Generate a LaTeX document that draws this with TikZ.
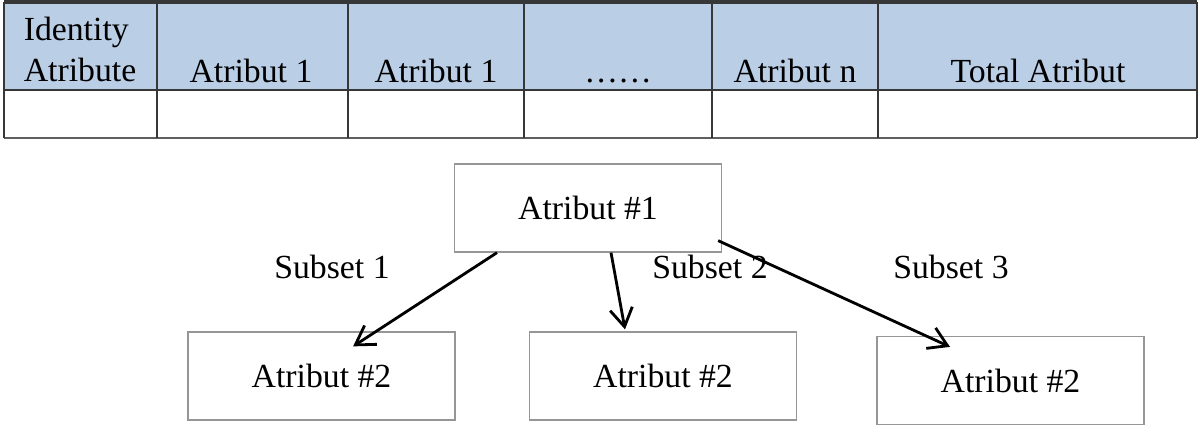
\documentclass[tikz,border=0pt]{standalone}
\usepackage{fontspec}
\setmainfont{Liberation Serif}
\usetikzlibrary{arrows.meta, positioning}
\definecolor{headblue}{RGB}{186,206,230}
\definecolor{gridgray}{RGB}{55,55,55}
\definecolor{boxgray}{RGB}{150,150,150}

\begin{document}
\begin{tikzpicture}[
      x=0.025cm, y=-0.025cm,
      cell/.style = {font=\fontsize{24}{28.8}\selectfont, inner sep=0pt, text=black},
      attrbox/.style = {
        rectangle, draw=boxgray, line width=0.9pt,
        minimum width=6.675cm, minimum height=2.2cm,
        font=\fontsize{24}{28.8}\selectfont, inner sep=0pt, text=black
      },
      arr/.style = {-{Straight Barb[length=13pt,width=16pt]}, line width=2pt, color=black},
      lbl/.style = {font=\fontsize{24}{28.8}\selectfont, inner sep=0pt, text=black}
    ]

      \useasboundingbox (0,0) rectangle (1200,442);

      % ===================== Table =====================
      \fill[headblue] (4,4) rectangle (1197,90);
      \draw[gridgray, line width=2.6pt] (4,2) -- (1197,2);
      \draw[gridgray, line width=1.3pt] (4,90) -- (1197,90);
      \draw[gridgray!80, line width=1pt] (4,138) -- (1197,138);
      \foreach \cx in {4,157,348,524,712,878,1197}
        \draw[gridgray, line width=1pt] (\cx,2) -- (\cx,138);

      \node[cell, anchor=north, align=left] (hid) at (80,17) {Identity\\Atribute};
      \node[cell, anchor=base] (ha1)  at (251,82)  {Atribut 1};
      \node[cell, anchor=base] (ha2)  at (436,82)  {Atribut 1};
      \node[cell, anchor=base] (hdot) at (618,82)  {……};
      \node[cell, anchor=base] (han)  at (795,82)  {Atribut n};
      \node[cell, anchor=base] (htot) at (1038,82) {Total Atribut};

      % ===================== Split tree =====================
      \node[attrbox] (root) at (588,208)   {Atribut \#1};
      \node[attrbox] (sub1) at (321.5,376) {Atribut \#2};
      \node[attrbox] (sub2) at (663,376)   {Atribut \#2};
      \node[attrbox] (sub3) at (1010.5,380.5) {Atribut \#2};

      \draw[arr] ([xshift=-2.275cm]root.south) -- ([xshift=0.79cm,yshift=-0.375cm]sub1.north);
      \draw[arr] ([xshift=0.575cm]root.south) -- ([xshift=-0.95cm,yshift=0.05cm]sub2.north);
      \draw[arr] ([xshift=-0.1cm,yshift=0.3cm]root.south east) -- ([xshift=-1.5125cm,yshift=-0.275cm]sub3.north);

      % Subset labels
      \node[lbl, anchor=base] (s1) at (332,278) {Subset 1};
      \node[lbl, anchor=base] (s2) at (710,278) {Subset 2};
      \node[lbl, anchor=base] (s3) at (951,278) {Subset 3};

    \end{tikzpicture}
\end{document}
